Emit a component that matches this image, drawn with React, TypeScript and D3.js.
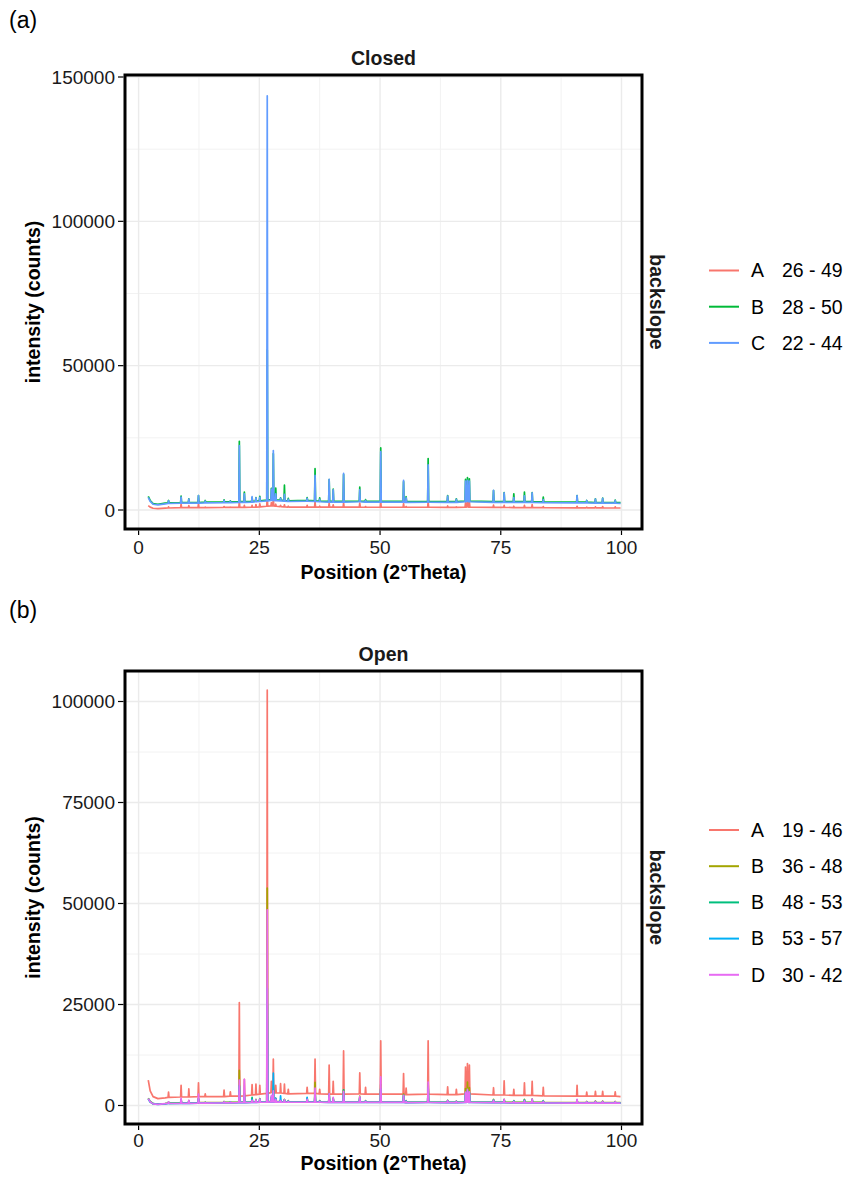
import React from 'react';
import * as d3 from 'd3';

// ---------- DATA ----------
// 2-theta positions of diffraction peaks (shared by all patterns)
const peakPos = [6.2, 8.8, 10.4, 12.4, 13.8, 17.7, 19.0, 20.86, 21.9, 23.5,
  24.3, 25.1, 26.64, 27.5, 27.9, 28.4, 29.4, 30.2, 31.0, 34.9,
  36.54, 37.5, 39.46, 40.3, 42.45, 45.8, 47.0, 50.14, 54.87, 55.4,
  59.96, 64.0, 65.8, 67.7, 68.1, 68.5, 73.5, 75.7, 77.7, 79.9,
  81.5, 83.8, 90.8, 92.8, 94.6, 96.1, 98.7];
// low-angle start of each scan
const leadPos = [2.0, 2.4, 3.0, 4.0, 5.5];
const endPos = 99.8;

// ---- Closed ----
const closedA_lead = [1500, 1000, 600, 500, 650];
const closedA_base = [700, 800, 800, 850, 850, 900, 900, 900, 900, 950,
  1000, 1100, 1300, 1400, 1400, 1300, 1200, 1100, 1000, 1000,
  1000, 1000, 1000, 1000, 1000, 1000, 950, 950, 950, 950,
  950, 900, 900, 1000, 1100, 1000, 900, 900, 850, 850,
  850, 800, 750, 750, 750, 750, 700];
const closedA_top = [1100, 2000, 1500, 2200, 1000, 1200, 1000, 3200, 1600, 1600,
  1900, 2100, 5200, 2600, 4000, 2000, 1600, 1800, 1300, 1600,
  2800, 1300, 2400, 1800, 2400, 2400, 1200, 3000, 2200, 1200,
  2800, 1400, 1100, 2500, 4000, 2800, 1700, 1600, 1300, 1600,
  1900, 1200, 1300, 1000, 1100, 1200, 1100];
const closedA_end = 700;

const closedB_lead = [4700, 3300, 2200, 2000, 2350];
const closedB_base = [2500, 2600, 2600, 2600, 2700, 2800, 2800, 2900, 2900, 3000,
  3100, 3200, 3400, 3600, 3600, 3500, 3400, 3300, 3200, 3300,
  3200, 3100, 3000, 3000, 3000, 3100, 3000, 3000, 3000, 2900,
  3000, 2900, 2900, 3100, 3300, 3100, 2900, 2900, 2900, 2900,
  2900, 2800, 2700, 2700, 2600, 2600, 2600];
const closedB_top = [3300, 4800, 3900, 5000, 3300, 3500, 3200, 23800, 6200, 4300,
  4300, 4700, 55500, 7500, 19500, 7600, 4200, 8600, 4000, 4300,
  14300, 4200, 10500, 7200, 12300, 7900, 3600, 21500, 9800, 4600,
  17800, 5000, 3900, 10600, 11200, 10800, 6700, 6000, 5600, 6200,
  6000, 4500, 5000, 3300, 3900, 4100, 3400];
const closedB_end = 2550;

const closedC_lead = [4400, 3000, 2000, 1800, 2150];
const closedC_base = [2250, 2350, 2350, 2350, 2450, 2550, 2550, 2650, 2650, 2750,
  2850, 2950, 3150, 3350, 3350, 3250, 3150, 3050, 2950, 3050,
  2950, 2850, 2750, 2750, 2750, 2850, 2750, 2750, 2750, 2650,
  2750, 2650, 2650, 2850, 3050, 2850, 2650, 2650, 2650, 2650,
  2650, 2550, 2450, 2450, 2350, 2350, 2350];
const closedC_top = [3200, 4500, 3800, 5000, 3100, 3300, 3000, 22300, 5600, 4600,
  4200, 4400, 143500, 7200, 20600, 5600, 4000, 5400, 3700, 4000,
  12000, 3700, 10600, 7000, 12700, 7000, 3300, 20200, 10300, 4200,
  15600, 4800, 3700, 10000, 10300, 10000, 6800, 5900, 4300, 4900,
  5900, 3600, 5000, 3300, 3800, 4000, 3300];
const closedC_end = 2300;

// ---- Open ----
const openA_lead = [6300, 3600, 2200, 1700, 1900];
const openA_base = [2000, 2100, 2100, 2200, 2200, 2200, 2300, 2300, 2400, 2600,
  2700, 2800, 3000, 3200, 3200, 3100, 3100, 3000, 2900, 3000,
  3000, 2900, 2800, 2800, 2800, 2900, 2800, 2800, 2800, 2700,
  2800, 2700, 2700, 2900, 3100, 2900, 2600, 2600, 2500, 2500,
  2500, 2400, 2300, 2300, 2300, 2300, 2300];
const openA_top = [3300, 5000, 4100, 5600, 2900, 3800, 3400, 25500, 6500, 5200,
  5300, 5000, 102800, 6000, 11500, 5000, 5400, 5300, 4000, 4500,
  11500, 4000, 10000, 6000, 13500, 8100, 4500, 16000, 7900, 4300,
  16000, 4600, 4000, 9500, 10400, 10000, 4400, 6100, 4000, 5600,
  6000, 4500, 5000, 3300, 3500, 3500, 3400];
const openA_end = 2200;

const openB1_lead = [1800, 1000, 500, 400, 500];
const openB1_base = [600, 650, 650, 700, 700, 750, 750, 800, 800, 850,
  850, 900, 950, 1000, 1000, 950, 950, 900, 900, 900,
  900, 900, 850, 850, 850, 850, 850, 850, 850, 800,
  850, 800, 800, 850, 900, 850, 800, 800, 750, 750,
  750, 750, 700, 700, 700, 700, 700];
const openB1_top = [900, 1500, 1200, 1800, 800, 1000, 900, 8700, 3000, 1600,
  1500, 1700, 53800, 2000, 5000, 1800, 1300, 1500, 1200, 1800,
  5700, 1200, 3000, 1800, 3800, 2300, 1200, 5200, 2800, 1200,
  5500, 1300, 1100, 4200, 5800, 4400, 1500, 1500, 1200, 1500,
  1600, 1200, 1400, 1000, 1100, 1100, 1000];
const openB1_end = 700;

const openB2_lead = [1700, 900, 450, 350, 450];
const openB2_base = [550, 600, 600, 650, 650, 700, 700, 750, 750, 800,
  800, 850, 900, 950, 950, 900, 900, 850, 850, 850,
  850, 850, 800, 800, 800, 800, 800, 800, 800, 750,
  800, 750, 750, 800, 850, 800, 750, 750, 700, 700,
  700, 700, 650, 650, 650, 650, 650];
const openB2_top = [800, 1400, 1100, 1700, 750, 900, 850, 5000, 2600, 2000,
  1400, 1600, 25000, 1900, 3500, 1700, 1200, 1400, 1100, 1600,
  3400, 1100, 2800, 1700, 3900, 2000, 1100, 4200, 2600, 1100,
  4500, 1200, 1000, 3000, 3800, 3200, 1400, 1400, 1100, 1400,
  1500, 1100, 1300, 900, 1000, 1000, 900];
const openB2_end = 650;

const openB3_lead = [1600, 850, 400, 300, 400];
const openB3_base = [500, 550, 550, 600, 600, 650, 650, 700, 700, 750,
  750, 800, 850, 900, 900, 850, 850, 800, 800, 800,
  800, 800, 750, 750, 750, 750, 750, 750, 750, 700,
  750, 700, 700, 750, 800, 750, 700, 700, 650, 650,
  650, 650, 600, 600, 600, 600, 600];
const openB3_top = [750, 1300, 1000, 1600, 700, 850, 800, 4800, 2400, 1500,
  1300, 1500, 29000, 2200, 8000, 1800, 2400, 1400, 1100, 2000,
  3000, 1100, 2600, 1600, 3200, 1900, 1100, 4000, 2400, 1100,
  4300, 1200, 1000, 3000, 3600, 3100, 1300, 1300, 1100, 1300,
  1400, 1100, 1200, 900, 900, 900, 850];
const openB3_end = 600;

const openD_lead = [1700, 900, 400, 300, 450];
const openD_base = [500, 550, 550, 600, 600, 650, 650, 700, 700, 750,
  750, 800, 850, 900, 900, 850, 850, 800, 800, 800,
  800, 800, 750, 750, 750, 750, 750, 750, 750, 700,
  750, 700, 700, 750, 800, 750, 700, 700, 650, 650,
  650, 650, 600, 600, 600, 600, 600];
const openD_top = [900, 1800, 1300, 2800, 700, 900, 800, 6300, 6500, 1300,
  1400, 1600, 48400, 2500, 3600, 1500, 1200, 1400, 1000, 1500,
  4300, 1000, 3000, 2000, 3500, 2200, 1000, 7100, 2500, 1000,
  5800, 1200, 1000, 3300, 4000, 3400, 1300, 1500, 1000, 1200,
  1600, 1000, 1500, 900, 1000, 1000, 900];
const openD_end = 600;

// legend labels and colours
const closedGroups = ['A', 'B', 'C'];
const closedRanges = ['26 - 49', '28 - 50', '22 - 44'];
const closedColors = ['#F8766D', '#00BA38', '#619CFF'];
const openGroups = ['A', 'B', 'B', 'B', 'D'];
const openRanges = ['19 - 46', '36 - 48', '48 - 53', '53 - 57', '30 - 42'];
const openColors = ['#F8766D', '#A3A500', '#00BF7D', '#00B0F6', '#E76BF3'];

const xTicks = [0, 25, 50, 75, 100];
const xMinor = [12.5, 37.5, 62.5, 87.5];
const closedYTicks = [0, 50000, 100000, 150000];
const closedYMinor = [25000, 75000, 125000];
const openYTicks = [0, 25000, 50000, 75000, 100000];
const openYMinor = [12500, 37500, 62500, 87500];

type Series = { lead: number[]; base: number[]; top: number[]; end: number };
const closedSeries: Series[] = [
  { lead: closedA_lead, base: closedA_base, top: closedA_top, end: closedA_end },
  { lead: closedB_lead, base: closedB_base, top: closedB_top, end: closedB_end },
  { lead: closedC_lead, base: closedC_base, top: closedC_top, end: closedC_end },
];
const openSeries: Series[] = [
  { lead: openA_lead, base: openA_base, top: openA_top, end: openA_end },
  { lead: openB1_lead, base: openB1_base, top: openB1_top, end: openB1_end },
  { lead: openB2_lead, base: openB2_base, top: openB2_top, end: openB2_end },
  { lead: openB3_lead, base: openB3_base, top: openB3_top, end: openB3_end },
  { lead: openD_lead, base: openD_base, top: openD_top, end: openD_end },
];

// ---------- LAYOUT ----------
const FONT = "'Liberation Sans', Arial, Helvetica, sans-serif";
const HW = 0.1; // half width of a peak spike in degrees

function seriesPoints(s: Series): [number, number][] {
  const pts: [number, number][] = [];
  leadPos.forEach((x, i) => pts.push([x, s.lead[i]]));
  peakPos.forEach((p, i) => {
    pts.push([p - HW, s.base[i]]);
    pts.push([p, s.top[i]]);
    pts.push([p + HW, s.base[i]]);
  });
  pts.push([endPos, s.end]);
  return pts;
}

type PanelProps = {
  title: string;
  tag: string;
  tagY: number;
  top: number;
  bottom: number;
  tickOff: number;
  titleOff: number;
  yScale: d3.ScaleLinear<number, number>;
  yTicks: number[];
  yMinor: number[];
  series: Series[];
  colors: string[];
  groups: string[];
  ranges: string[];
  legendY: number;
  legendStep: number;
};

const LEFT = 125;
const RIGHT = 642;
const xScale = d3.scaleLinear().domain([0, 100]).range([138.6, 621.5]);

function Panel(p: PanelProps) {
  const line = d3
    .line<[number, number]>()
    .x((d) => xScale(d[0]))
    .y((d) => p.yScale(d[1]));
  const midY = (p.top + p.bottom) / 2;
  const midX = (LEFT + RIGHT) / 2;
  const clipId = 'clip-' + p.title;
  return (
    <g>
      <text x={9} y={p.tagY} fontSize={23} fontFamily={FONT} fill="#000">{p.tag}</text>
      <text x={midX} y={p.top - 10} textAnchor="middle" fontSize={19.5} fontWeight="bold" fontFamily={FONT} fill="#1a1a1a">{p.title}</text>
      <defs>
        <clipPath id={clipId}>
          <rect x={LEFT} y={p.top} width={RIGHT - LEFT} height={p.bottom - p.top} />
        </clipPath>
      </defs>
      <rect x={LEFT} y={p.top} width={RIGHT - LEFT} height={p.bottom - p.top} fill="#fff" />
      {/* grid */}
      {p.yMinor.map((v) => (
        <line key={'ym' + v} x1={LEFT} x2={RIGHT} y1={p.yScale(v)} y2={p.yScale(v)} stroke="#F2F2F2" strokeWidth={1} />
      ))}
      {xMinor.map((v) => (
        <line key={'xm' + v} x1={xScale(v)} x2={xScale(v)} y1={p.top} y2={p.bottom} stroke="#F2F2F2" strokeWidth={1} />
      ))}
      {p.yTicks.map((v) => (
        <line key={'yg' + v} x1={LEFT} x2={RIGHT} y1={p.yScale(v)} y2={p.yScale(v)} stroke="#EBEBEB" strokeWidth={1.4} />
      ))}
      {xTicks.map((v) => (
        <line key={'xg' + v} x1={xScale(v)} x2={xScale(v)} y1={p.top} y2={p.bottom} stroke="#EBEBEB" strokeWidth={1.4} />
      ))}
      {/* data */}
      <g clipPath={`url(#${clipId})`}>
        {p.series.map((s, i) => (
          <path key={i} d={line(seriesPoints(s)) || ''} fill="none" stroke={p.colors[i]} strokeWidth={1.7} strokeLinejoin="round" />
        ))}
      </g>
      {/* border */}
      <rect x={LEFT} y={p.top} width={RIGHT - LEFT} height={p.bottom - p.top} fill="none" stroke="#000" strokeWidth={3} />
      {/* y axis */}
      {p.yTicks.map((v) => (
        <g key={'yt' + v}>
          <line x1={118} x2={123.5} y1={p.yScale(v)} y2={p.yScale(v)} stroke="#000" strokeWidth={1.2} />
          <text x={115} y={p.yScale(v)} dy="0.35em" textAnchor="end" fontSize={19} fontFamily={FONT} fill="#1a1a1a">{v}</text>
        </g>
      ))}
      {/* x axis */}
      {xTicks.map((v) => (
        <g key={'xt' + v}>
          <line x1={xScale(v)} x2={xScale(v)} y1={p.bottom + 1.5} y2={p.bottom + 6} stroke="#000" strokeWidth={1.2} />
          <text x={xScale(v)} y={p.bottom + p.tickOff} textAnchor="middle" fontSize={19} fontFamily={FONT} fill="#1a1a1a">{v}</text>
        </g>
      ))}
      <text x={midX} y={p.bottom + p.titleOff} textAnchor="middle" fontSize={19.5} fontWeight="bold" fontFamily={FONT} fill="#000">Position (2°Theta)</text>
      <text transform={`translate(33,${midY}) rotate(-90)`} dy="0.35em" textAnchor="middle" fontSize={19.5} fontWeight="bold" fontFamily={FONT} fill="#000">intensity (counts)</text>
      <text transform={`translate(657,${midY}) rotate(90)`} dy="0.35em" textAnchor="middle" fontSize={19.5} fontWeight="bold" fontFamily={FONT} fill="#1a1a1a">backslope</text>
      {/* legend */}
      {p.groups.map((g, i) => {
        const y = p.legendY + i * p.legendStep;
        return (
          <g key={'lg' + i}>
            <line x1={709} x2={739} y1={y} y2={y} stroke={p.colors[i]} strokeWidth={2} />
            <text x={751} y={y} dy="0.35em" fontSize={19.5} fontFamily={FONT} fill="#000">{g}</text>
            <text x={782} y={y} dy="0.35em" fontSize={19.5} fontFamily={FONT} fill="#000">{p.ranges[i]}</text>
          </g>
        );
      })}
    </g>
  );
}

export default function App() {
  const closedY = d3.scaleLinear().domain([0, 150000]).range([510, 77]);
  const openY = d3.scaleLinear().domain([0, 100000]).range([1105.5, 701.5]);
  return (
    <svg width={862} height={1177} viewBox="0 0 862 1177" style={{ position: 'absolute', left: 0, top: 0, background: '#fff' }}>
      <rect x={0} y={0} width={862} height={1177} fill="#fff" />
      <Panel title="Closed" tag="(a)" tagY={28} top={75} bottom={529} tickOff={25} titleOff={50}
        yScale={closedY} yTicks={closedYTicks} yMinor={closedYMinor}
        series={closedSeries} colors={closedColors} groups={closedGroups} ranges={closedRanges}
        legendY={270.5} legendStep={36.2} />
      <Panel title="Open" tag="(b)" tagY={618} top={671} bottom={1124} tickOff={23} titleOff={46}
        yScale={openY} yTicks={openYTicks} yMinor={openYMinor}
        series={openSeries} colors={openColors} groups={openGroups} ranges={openRanges}
        legendY={830} legendStep={36.2} />
    </svg>
  );
}
